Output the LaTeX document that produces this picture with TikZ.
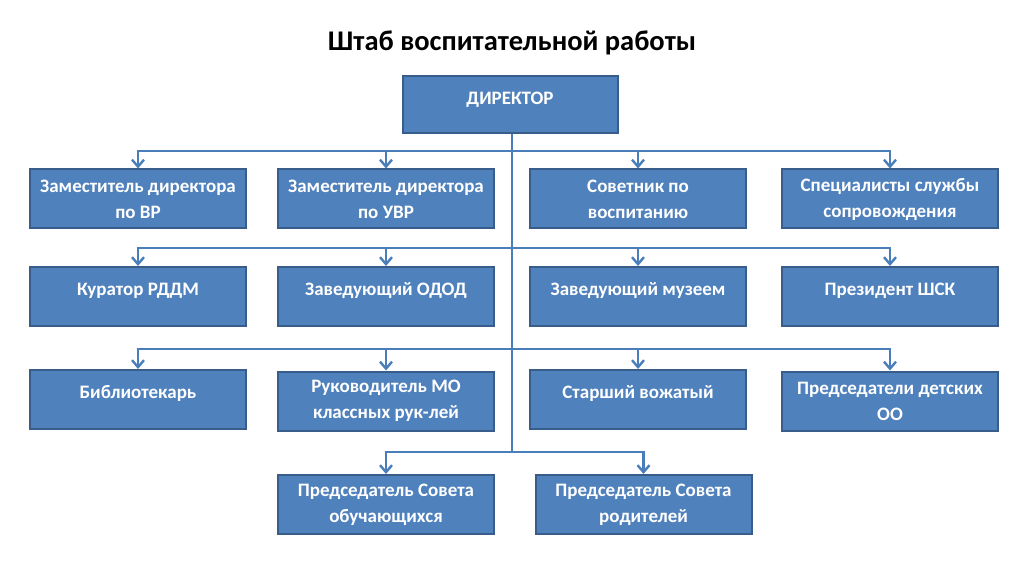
\documentclass[tikz,border=0pt]{standalone}
\usepackage{fontspec}
\setmainfont{Carlito}
\usepackage{xcolor}
\usepackage{tikz}
\usetikzlibrary{arrows.meta,calc}

\definecolor{boxfill}{HTML}{4F81BD}
\definecolor{boxline}{HTML}{385D8A}
\definecolor{wirecol}{HTML}{4A7EBB}

\tikzset{
  post/.style={draw=boxline,line width=2pt,fill=boxfill,text=white,
    font=\bfseries\fontsize{19}{26}\selectfont,align=center,
    minimum width=216pt,minimum height=59pt,inner sep=0pt},
  oneline/.style={text height=15pt,text depth=18pt},
  wire/.style={draw=wirecol,line width=2.6pt},
  feed/.style={wire,-{Straight Barb[length=7pt,width=12pt,line width=2.4pt]}}
}

\begin{document}
\begin{tikzpicture}[x=1pt,y=-1pt]
            \useasboundingbox (0,0) rectangle (1032,569);

            % Title
            \node[font=\bfseries\fontsize{28.5}{32}\selectfont] (title) at (512,43) {Штаб воспитательной работы};

            % Director
            \node[post,oneline,text depth=15pt,minimum width=215pt,minimum height=57pt] (dir) at (510,104.5) {ДИРЕКТОР};

            % Row 1
            \node[post] (zamvr) at (138,199) {Заместитель директора\\по ВР};
            \node[post] (zamuvr) at (386,199) {Заместитель директора\\по УВР};
            \node[post] (sovet) at (638,199) {Советник по\\воспитанию};
            \node[post] (spec) at (890,199) {Специалисты службы\\сопровождения};

            % Row 2
            \node[post,oneline] (kurator) at (138,296.5) {Куратор РДДМ};
            \node[post,oneline] (odod) at (386,296.5) {Заведующий ОДОД};
            \node[post,oneline] (muzey) at (638,296.5) {Заведующий музеем};
            \node[post,oneline] (shsk) at (890,296.5) {Президент ШСК};

            % Row 3
            \node[post,oneline] (bibl) at (138,399.5) {Библиотекарь};
            \node[post] (mo) at (386,401) {Руководитель МО\\классных рук-лей};
            \node[post,oneline] (vozh) at (638,399.5) {Старший вожатый};
            \node[post] (predoo) at (890,401) {Председатели детских\\ОО};

            % Row 4
            \node[post] (sovobuch) at (386,504.5) {Председатель Совета\\обучающихся};
            \node[post] (sovrod) at (643.5,504.5) {Председатель Совета\\родителей};

            % Bus levels
            \coordinate (bus1) at (512,151);
            \coordinate (bus2) at (512,248);
            \coordinate (bus3) at (512,349);
            \coordinate (bus4) at (512,452);

            % Trunk
            \draw[wire] (dir.south -| bus1) -- (bus4);

            % Buses
            \draw[wire] ($(bus1 -| zamvr.north)+(-1.3,0)$) -- ($(bus1 -| spec.north)+(1.3,0)$);
            \draw[wire] ($(bus2 -| kurator.north)+(-1.3,0)$) -- ($(bus2 -| shsk.north)+(1.3,0)$);
            \draw[wire] ($(bus3 -| bibl.north)+(-1.3,0)$) -- ($(bus3 -| predoo.north)+(1.3,0)$);
            \draw[wire] ($(bus4 -| sovobuch.north)+(-1.3,0)$) -- ($(bus4 -| sovrod.north)+(1.3,0)$);

            % Arrows
            \foreach \n in {zamvr,zamuvr,sovet,spec}
              \draw[feed] (bus1 -| \n.north) -- (\n.north);
            \foreach \n in {kurator,odod,muzey,shsk}
              \draw[feed] (bus2 -| \n.north) -- (\n.north);
            \foreach \n in {bibl,mo,vozh,predoo}
              \draw[feed] (bus3 -| \n.north) -- (\n.north);
            \foreach \n in {sovobuch,sovrod}
              \draw[feed] (bus4 -| \n.north) -- (\n.north);
\end{tikzpicture}
\end{document}
